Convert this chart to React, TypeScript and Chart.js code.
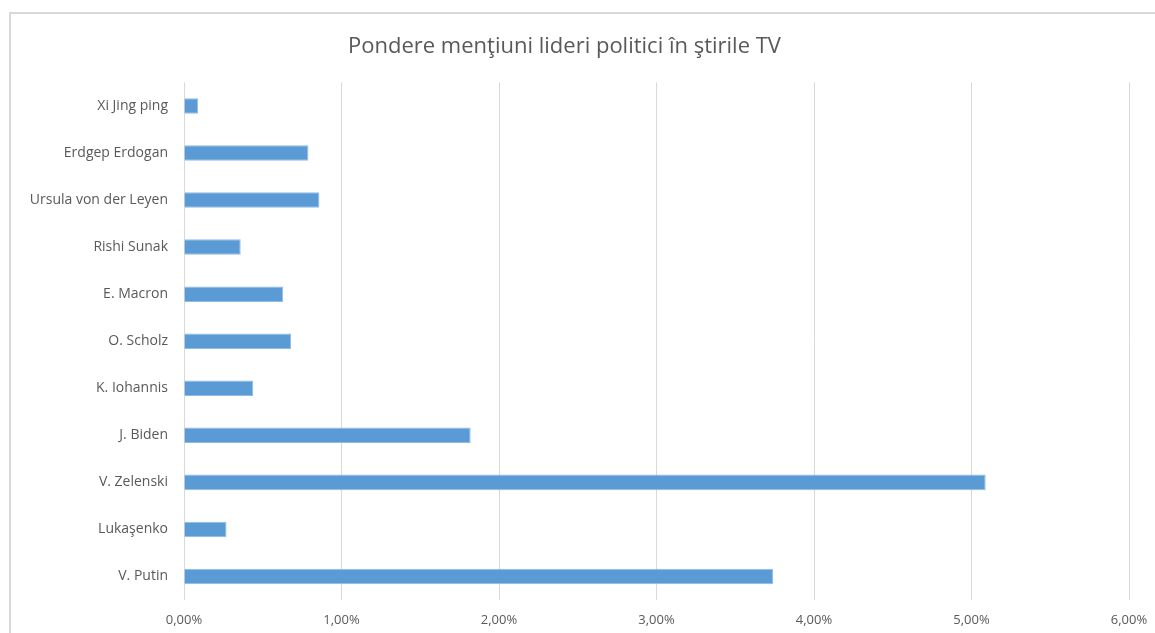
import React, { useEffect, useRef } from "react";
import { Chart, registerables } from "chart.js";

Chart.register(...registerables);

const TITLE = "Pondere menţiuni lideri politici în ştirile TV";
const categories = [
  "Xi Jing ping",
  "Erdgep Erdogan",
  "Ursula von der Leyen",
  "Rishi Sunak",
  "E. Macron",
  "O. Scholz",
  "K. Iohannis",
  "J. Biden",
  "V. Zelenski",
  "Lukaşenko",
  "V. Putin",
];
const shares = [0.09, 0.79, 0.86, 0.36, 0.63, 0.68, 0.44, 1.82, 5.09, 0.27, 3.74];
const xMin = 0;
const xMax = 6;
const xStep = 1;

const FONT = "'Open Sans', 'Noto Sans', sans-serif";

export default function App() {
  const ref = useRef<HTMLCanvasElement>(null);
  useEffect(() => {
    if (!ref.current) return;
    const chart = new Chart(ref.current, {
      type: "bar",
      data: {
        labels: categories,
        datasets: [
          {
            data: shares,
            backgroundColor: "#5B9BD5",
            borderColor: "#8FBCE6",
            borderWidth: 1,
            categoryPercentage: 1,
            barPercentage: 0.33,
          },
        ],
      },
      options: {
        indexAxis: "y",
        animation: false,
        responsive: false,
        maintainAspectRatio: false,
        layout: { padding: { top: 34, right: 26, bottom: 0, left: 0 } },
        plugins: {
          legend: { display: false },
          tooltip: { enabled: false },
          title: {
            display: true,
            text: TITLE,
            color: "#595959",
            font: { family: FONT, size: 22, weight: "normal", lineHeight: 1.2 },
            padding: { top: 0, bottom: 22 },
          },
        },
        scales: {
          x: {
            min: xMin,
            max: xMax,
            afterFit: (s: any) => {
              s.height = 33;
              s.paddingRight = 0;
              s.paddingLeft = 0;
            },
            ticks: {
              stepSize: xStep,
              color: "#595959",
              font: { family: FONT, size: 13 },
              padding: 12,
              callback: (v: any) => Number(v).toFixed(2).replace(".", ",") + "%",
            },
            grid: { color: "#d9d9d9", lineWidth: 1, drawTicks: false },
            border: { display: false },
          },
          y: {
            afterFit: (s: any) => {
              s.width = 184;
            },
            ticks: {
              color: "#595959",
              font: { family: FONT, size: 14 },
              padding: 16,
            },
            grid: { display: false, drawTicks: false },
            border: { display: false },
          },
        },
      },
    });
    return () => chart.destroy();
  }, []);
  return (
    <div style={{ position: "fixed", left: 0, top: 0, width: 1155, height: 633, background: "#fff", overflow: "hidden" }}>
      <div
        style={{
          position: "absolute",
          left: 9,
          top: 12,
          width: 1300,
          height: 800,
          borderLeft: "2px solid #d9d9d9",
          borderTop: "2px solid #d9d9d9",
        }}
      />
      <canvas ref={ref} width={1155} height={633} style={{ position: "absolute", left: 0, top: 0 }} />
    </div>
  );
}
